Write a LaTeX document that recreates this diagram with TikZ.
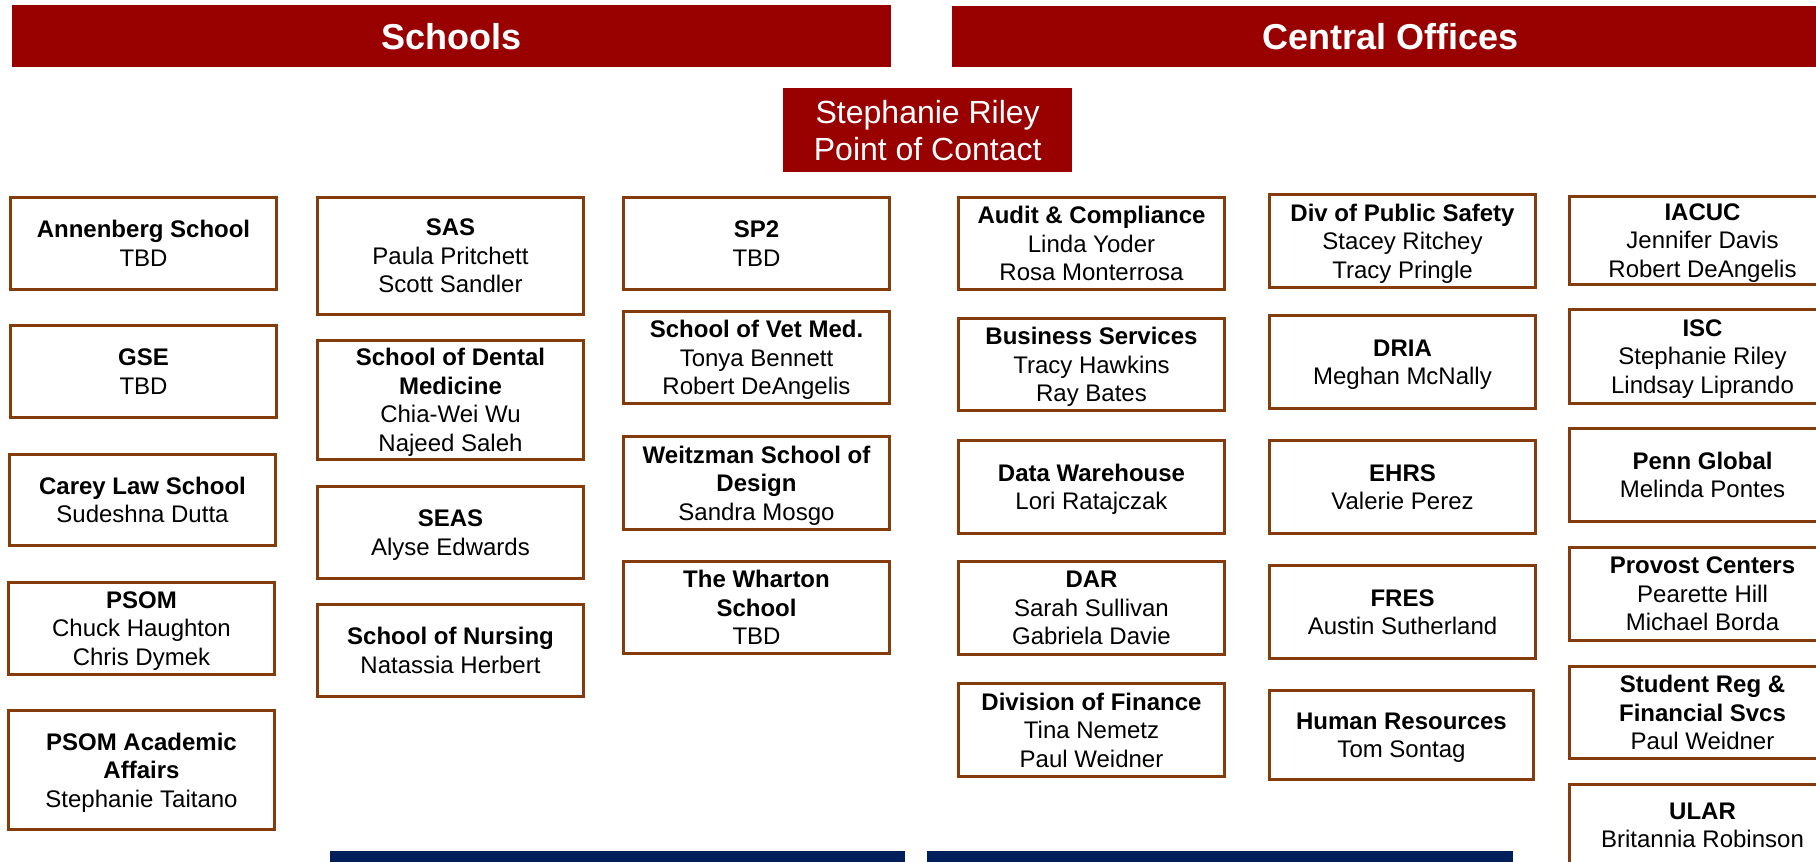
\documentclass[tikz,border=0pt]{standalone}
\usepackage{fontspec}
\setmainfont{Liberation Sans}
\usetikzlibrary{positioning}
\definecolor{pennred}{HTML}{990000}
\definecolor{pennblue}{HTML}{011F5B}
\definecolor{unitbrown}{HTML}{843C0C}
\tikzset{unitbox/.style={draw=unitbrown,line width=3pt,fill=white,minimum width=266pt,minimum height=92pt,inner sep=0pt,align=center,text depth=0pt,font=\fontsize{24pt}{28.5pt}\selectfont},
         firstbox/.style={unitbox,anchor=north west},
         headbar/.style={fill=pennred,text=white,inner sep=0pt,anchor=north west,font=\fontsize{36pt}{40pt}\selectfont\bfseries},
         contactbox/.style={fill=pennred,text=white,inner sep=0pt,anchor=north west,align=center,minimum width=289pt,minimum height=84pt,font=\fontsize{32pt}{37pt}\selectfont}}

\begin{document}
\begin{tikzpicture}[x=1pt,y=-1pt]
              \useasboundingbox (0,0) rectangle (1816,862);
              \clip (0,0) rectangle (1816,862);

              \node[headbar,minimum width=879pt,minimum height=62pt] (schools) at (12,5) {Schools};
              \node[headbar,minimum width=876pt,minimum height=61pt] (central) at (952,6) {Central Offices};
              \node[contactbox] (contact) at (783,88) {Stephanie Riley\\Point of Contact};

              \node[firstbox] (annenberg) at (9,196) {\textbf{Annenberg School}\\TBD};
              \node[unitbox,below=33pt of annenberg] (gse) {\textbf{GSE}\\TBD};
              \node[unitbox,below=34pt of gse,xshift=-1pt,minimum height=91pt] (carey) {\textbf{Carey Law School}\\Sudeshna Dutta};
              \node[unitbox,below=34pt of carey,xshift=-1pt] (psom) {\textbf{PSOM}\\Chuck Haughton\\Chris Dymek};
              \node[unitbox,below=33pt of psom,minimum height=119pt] (psomaa) {\textbf{PSOM Academic}\\\textbf{Affairs}\\Stephanie Taitano};

              \node[firstbox,minimum height=117pt] (sas) at (316,196) {\textbf{SAS}\\Paula Pritchett\\Scott Sandler};
              \node[unitbox,below=23pt of sas,minimum height=119pt] (dental) {\textbf{School of Dental}\\\textbf{Medicine}\\Chia-Wei Wu\\Najeed Saleh};
              \node[unitbox,below=24pt of dental] (seas) {\textbf{SEAS}\\Alyse Edwards};
              \node[unitbox,below=23pt of seas] (nursing) {\textbf{School of Nursing}\\Natassia Herbert};

              \node[firstbox] (sptwo) at (622,196) {\textbf{SP2}\\TBD};
              \node[unitbox,below=19pt of sptwo] (vetmed) {\textbf{School of Vet Med.}\\Tonya Bennett\\Robert DeAngelis};
              \node[unitbox,below=30pt of vetmed,minimum height=93pt] (weitzman) {\textbf{Weitzman School of}\\\textbf{Design}\\Sandra Mosgo};
              \node[unitbox,below=29pt of weitzman] (wharton) {\textbf{The Wharton}\\\textbf{School}\\TBD};

              \node[firstbox] (audit) at (957,196) {\textbf{Audit \& Compliance}\\Linda Yoder\\Rosa Monterrosa};
              \node[unitbox,below=26pt of audit] (business) {\textbf{Business Services}\\Tracy Hawkins\\Ray Bates};
              \node[unitbox,below=27pt of business,minimum height=93pt] (datawh) {\textbf{Data Warehouse}\\Lori Ratajczak};
              \node[unitbox,below=25pt of datawh,minimum height=93pt] (dar) {\textbf{DAR}\\Sarah Sullivan\\Gabriela Davie};
              \node[unitbox,below=26pt of dar,minimum height=93pt] (finance) {\textbf{Division of Finance}\\Tina Nemetz\\Paul Weidner};

              \node[firstbox,minimum height=93pt] (safety) at (1268,193) {\textbf{Div of Public Safety}\\Stacey Ritchey\\Tracy Pringle};
              \node[unitbox,below=25pt of safety,minimum height=93pt] (dria) {\textbf{DRIA}\\Meghan McNally};
              \node[unitbox,below=29pt of dria,minimum height=93pt] (ehrs) {\textbf{EHRS}\\Valerie Perez};
              \node[unitbox,below=29pt of ehrs,minimum height=93pt] (fres) {\textbf{FRES}\\Austin Sutherland};
              \node[unitbox,below=29pt of fres,xshift=-1pt,minimum width=264pt,minimum height=89pt] (hr) {\textbf{Human Resources}\\Tom Sontag};

              \node[firstbox,minimum height=88pt] (iacuc) at (1568,195) {\textbf{IACUC}\\Jennifer Davis\\Robert DeAngelis};
              \node[unitbox,below=22pt of iacuc,minimum height=94pt] (isc) {\textbf{ISC}\\Stephanie Riley\\Lindsay Liprando};
              \node[unitbox,below=22pt of isc,minimum height=93pt] (global) {\textbf{Penn Global}\\Melinda Pontes};
              \node[unitbox,below=23pt of global,minimum height=93pt] (provost) {\textbf{Provost Centers}\\Pearette Hill\\Michael Borda};
              \node[unitbox,below=23pt of provost] (sfs) {\textbf{Student Reg \&}\\\textbf{Financial Svcs}\\Paul Weidner};
              \node[unitbox,below=23pt of sfs,minimum height=81pt] (ular) {\textbf{ULAR}\\Britannia Robinson};

              \fill[pennblue] (330,851) rectangle (905,875);
              \fill[pennblue] (927,851) rectangle (1513,875);
            \end{tikzpicture}
\end{document}
